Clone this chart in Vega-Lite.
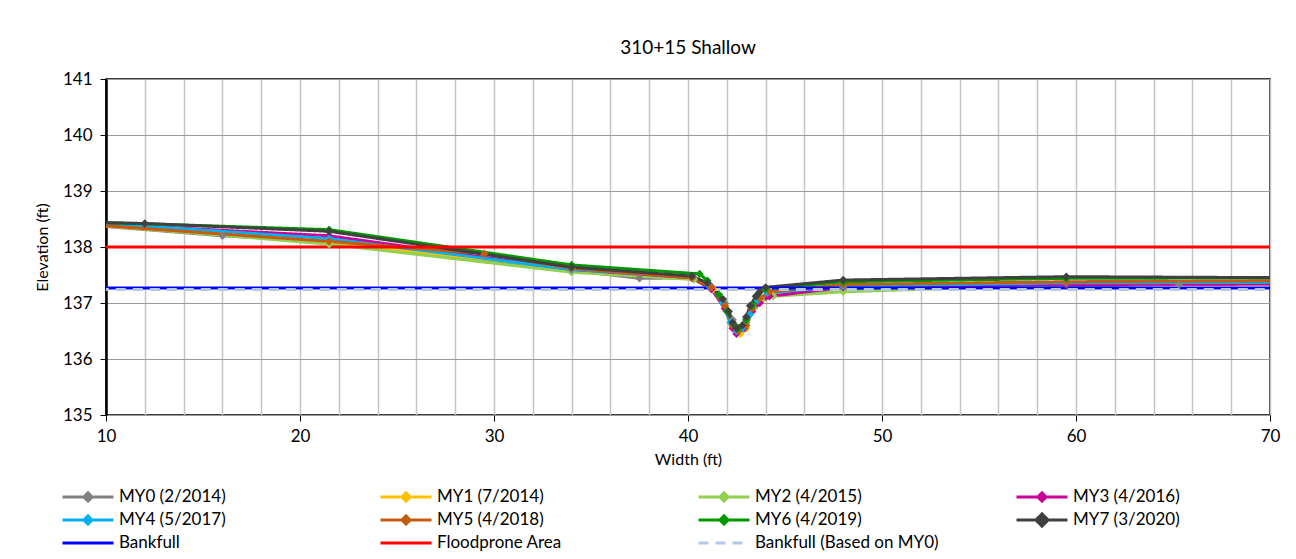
{
  "$schema": "https://vega.github.io/schema/vega-lite/v6.json",
  "width": 1164,
  "height": 336,
  "autosize": {"type": "none"},
  "padding": {"left": 106, "top": 79, "right": 26, "bottom": 144},
  "background": "white",
  "title": {"text": "310+15 Shallow", "font": "Lato", "fontSize": 19, "fontWeight": "normal", "color": "#000000", "offset": 12, "anchor": "middle"},
  "config": {
    "view": {"stroke": "#000000", "strokeWidth": 1.5},
    "axis": {"labelFont": "Lato", "titleFont": "Lato", "labelColor": "#000000", "titleColor": "#000000", "labelFontSize": 17, "titleFontSize": 16, "titleFontWeight": "normal", "domainColor": "#000000", "tickColor": "#000000"}
  },
  "data": {"values": [
    {"series": "MY0 (2/2014)", "x": 7, "y": 138.45},
    {"series": "MY0 (2/2014)", "x": 16, "y": 138.2},
    {"series": "MY0 (2/2014)", "x": 21.5, "y": 138.1},
    {"series": "MY0 (2/2014)", "x": 37.5, "y": 137.44},
    {"series": "MY0 (2/2014)", "x": 40.3, "y": 137.45},
    {"series": "MY0 (2/2014)", "x": 41.2, "y": 137.3},
    {"series": "MY0 (2/2014)", "x": 41.9, "y": 137.0},
    {"series": "MY0 (2/2014)", "x": 42.3, "y": 136.7},
    {"series": "MY0 (2/2014)", "x": 42.6, "y": 136.55},
    {"series": "MY0 (2/2014)", "x": 43.0, "y": 136.65},
    {"series": "MY0 (2/2014)", "x": 43.3, "y": 136.9},
    {"series": "MY0 (2/2014)", "x": 43.6, "y": 137.05},
    {"series": "MY0 (2/2014)", "x": 44.2, "y": 137.15},
    {"series": "MY0 (2/2014)", "x": 48, "y": 137.25},
    {"series": "MY0 (2/2014)", "x": 65.3, "y": 137.33},
    {"series": "MY0 (2/2014)", "x": 72, "y": 137.35},

    {"series": "MY1 (7/2014)", "x": 7, "y": 138.45},
    {"series": "MY1 (7/2014)", "x": 21.5, "y": 138.08},
    {"series": "MY1 (7/2014)", "x": 34, "y": 137.62},
    {"series": "MY1 (7/2014)", "x": 40.2, "y": 137.45},
    {"series": "MY1 (7/2014)", "x": 41.3, "y": 137.25},
    {"series": "MY1 (7/2014)", "x": 41.9, "y": 136.95},
    {"series": "MY1 (7/2014)", "x": 42.3, "y": 136.6},
    {"series": "MY1 (7/2014)", "x": 42.7, "y": 136.45},
    {"series": "MY1 (7/2014)", "x": 43.0, "y": 136.55},
    {"series": "MY1 (7/2014)", "x": 43.3, "y": 136.85},
    {"series": "MY1 (7/2014)", "x": 43.7, "y": 137.05},
    {"series": "MY1 (7/2014)", "x": 44.3, "y": 137.15},
    {"series": "MY1 (7/2014)", "x": 48, "y": 137.27},
    {"series": "MY1 (7/2014)", "x": 59.5, "y": 137.35},
    {"series": "MY1 (7/2014)", "x": 72, "y": 137.38},

    {"series": "MY2 (4/2015)", "x": 7, "y": 138.47},
    {"series": "MY2 (4/2015)", "x": 21.5, "y": 138.05},
    {"series": "MY2 (4/2015)", "x": 34, "y": 137.55},
    {"series": "MY2 (4/2015)", "x": 40.3, "y": 137.42},
    {"series": "MY2 (4/2015)", "x": 41.2, "y": 137.25},
    {"series": "MY2 (4/2015)", "x": 41.9, "y": 136.95},
    {"series": "MY2 (4/2015)", "x": 42.3, "y": 136.65},
    {"series": "MY2 (4/2015)", "x": 42.6, "y": 136.5},
    {"series": "MY2 (4/2015)", "x": 43.0, "y": 136.6},
    {"series": "MY2 (4/2015)", "x": 43.4, "y": 136.9},
    {"series": "MY2 (4/2015)", "x": 43.8, "y": 137.05},
    {"series": "MY2 (4/2015)", "x": 44.4, "y": 137.12},
    {"series": "MY2 (4/2015)", "x": 48, "y": 137.2},
    {"series": "MY2 (4/2015)", "x": 59.5, "y": 137.33},
    {"series": "MY2 (4/2015)", "x": 72, "y": 137.34},

    {"series": "MY3 (4/2016)", "x": 7, "y": 138.46},
    {"series": "MY3 (4/2016)", "x": 21.5, "y": 138.2},
    {"series": "MY3 (4/2016)", "x": 34, "y": 137.6},
    {"series": "MY3 (4/2016)", "x": 40.2, "y": 137.45},
    {"series": "MY3 (4/2016)", "x": 41.2, "y": 137.25},
    {"series": "MY3 (4/2016)", "x": 41.9, "y": 136.9},
    {"series": "MY3 (4/2016)", "x": 42.3, "y": 136.55},
    {"series": "MY3 (4/2016)", "x": 42.5, "y": 136.45},
    {"series": "MY3 (4/2016)", "x": 42.9, "y": 136.55},
    {"series": "MY3 (4/2016)", "x": 43.3, "y": 136.85},
    {"series": "MY3 (4/2016)", "x": 43.7, "y": 137.0},
    {"series": "MY3 (4/2016)", "x": 44.2, "y": 137.12},
    {"series": "MY3 (4/2016)", "x": 48, "y": 137.28},
    {"series": "MY3 (4/2016)", "x": 59.5, "y": 137.33},
    {"series": "MY3 (4/2016)", "x": 72, "y": 137.34},

    {"series": "MY4 (5/2017)", "x": 7, "y": 138.49},
    {"series": "MY4 (5/2017)", "x": 21.5, "y": 138.15},
    {"series": "MY4 (5/2017)", "x": 34, "y": 137.6},
    {"series": "MY4 (5/2017)", "x": 40.2, "y": 137.47},
    {"series": "MY4 (5/2017)", "x": 41.1, "y": 137.3},
    {"series": "MY4 (5/2017)", "x": 41.8, "y": 137.0},
    {"series": "MY4 (5/2017)", "x": 42.2, "y": 136.65},
    {"series": "MY4 (5/2017)", "x": 42.5, "y": 136.5},
    {"series": "MY4 (5/2017)", "x": 42.8, "y": 136.55},
    {"series": "MY4 (5/2017)", "x": 43.2, "y": 136.8},
    {"series": "MY4 (5/2017)", "x": 43.6, "y": 137.05},
    {"series": "MY4 (5/2017)", "x": 44.1, "y": 137.18},
    {"series": "MY4 (5/2017)", "x": 48, "y": 137.3},
    {"series": "MY4 (5/2017)", "x": 59.5, "y": 137.36},
    {"series": "MY4 (5/2017)", "x": 72, "y": 137.37},

    {"series": "MY5 (4/2018)", "x": 7, "y": 138.45},
    {"series": "MY5 (4/2018)", "x": 21.5, "y": 138.1},
    {"series": "MY5 (4/2018)", "x": 29.5, "y": 137.88},
    {"series": "MY5 (4/2018)", "x": 34, "y": 137.62},
    {"series": "MY5 (4/2018)", "x": 40.2, "y": 137.45},
    {"series": "MY5 (4/2018)", "x": 41.2, "y": 137.28},
    {"series": "MY5 (4/2018)", "x": 41.9, "y": 136.95},
    {"series": "MY5 (4/2018)", "x": 42.3, "y": 136.6},
    {"series": "MY5 (4/2018)", "x": 42.6, "y": 136.5},
    {"series": "MY5 (4/2018)", "x": 43.0, "y": 136.6},
    {"series": "MY5 (4/2018)", "x": 43.3, "y": 136.9},
    {"series": "MY5 (4/2018)", "x": 43.7, "y": 137.08},
    {"series": "MY5 (4/2018)", "x": 44.2, "y": 137.2},
    {"series": "MY5 (4/2018)", "x": 48, "y": 137.33},
    {"series": "MY5 (4/2018)", "x": 59.5, "y": 137.38},
    {"series": "MY5 (4/2018)", "x": 72, "y": 137.4},

    {"series": "MY6 (4/2019)", "x": 7, "y": 138.47},
    {"series": "MY6 (4/2019)", "x": 21.5, "y": 138.31},
    {"series": "MY6 (4/2019)", "x": 34, "y": 137.68},
    {"series": "MY6 (4/2019)", "x": 40.6, "y": 137.52},
    {"series": "MY6 (4/2019)", "x": 41.0, "y": 137.4},
    {"series": "MY6 (4/2019)", "x": 41.6, "y": 137.15},
    {"series": "MY6 (4/2019)", "x": 42.0, "y": 136.85},
    {"series": "MY6 (4/2019)", "x": 42.4, "y": 136.6},
    {"series": "MY6 (4/2019)", "x": 42.6, "y": 136.55},
    {"series": "MY6 (4/2019)", "x": 43.0, "y": 136.7},
    {"series": "MY6 (4/2019)", "x": 43.3, "y": 136.95},
    {"series": "MY6 (4/2019)", "x": 43.6, "y": 137.15},
    {"series": "MY6 (4/2019)", "x": 44.0, "y": 137.25},
    {"series": "MY6 (4/2019)", "x": 48, "y": 137.38},
    {"series": "MY6 (4/2019)", "x": 59.5, "y": 137.44},
    {"series": "MY6 (4/2019)", "x": 72, "y": 137.45},

    {"series": "MY7 (3/2020)", "x": 7, "y": 138.45},
    {"series": "MY7 (3/2020)", "x": 12, "y": 138.42},
    {"series": "MY7 (3/2020)", "x": 21.5, "y": 138.28},
    {"series": "MY7 (3/2020)", "x": 34, "y": 137.64},
    {"series": "MY7 (3/2020)", "x": 40.2, "y": 137.48},
    {"series": "MY7 (3/2020)", "x": 41.0, "y": 137.36},
    {"series": "MY7 (3/2020)", "x": 41.8, "y": 137.07},
    {"series": "MY7 (3/2020)", "x": 42.1, "y": 136.85},
    {"series": "MY7 (3/2020)", "x": 42.3, "y": 136.65},
    {"series": "MY7 (3/2020)", "x": 42.5, "y": 136.55},
    {"series": "MY7 (3/2020)", "x": 42.8, "y": 136.6},
    {"series": "MY7 (3/2020)", "x": 43.0, "y": 136.75},
    {"series": "MY7 (3/2020)", "x": 43.2, "y": 136.95},
    {"series": "MY7 (3/2020)", "x": 43.5, "y": 137.12},
    {"series": "MY7 (3/2020)", "x": 43.7, "y": 137.2},
    {"series": "MY7 (3/2020)", "x": 44.0, "y": 137.28},
    {"series": "MY7 (3/2020)", "x": 48, "y": 137.41},
    {"series": "MY7 (3/2020)", "x": 59.5, "y": 137.47},
    {"series": "MY7 (3/2020)", "x": 72, "y": 137.45},

    {"series": "Bankfull", "x": 7, "y": 137.27},
    {"series": "Bankfull", "x": 72, "y": 137.27},
    {"series": "Floodprone Area", "x": 7, "y": 138.0},
    {"series": "Floodprone Area", "x": 72, "y": 138.0},
    {"series": "Bankfull (Based on MY0)", "x": 7, "y": 137.24},
    {"series": "Bankfull (Based on MY0)", "x": 72, "y": 137.24}
  ]},
  "layer": [
    {
      "mark": {"type": "line", "clip": true, "strokeJoin": "round"},
      "encoding": {
        "x": {"field": "x", "type": "quantitative",
          "scale": {"domain": [10, 70], "nice": false, "zero": false},
          "axis": {"title": "Width (ft)", "values": [10,12,14,16,18,20,22,24,26,28,30,32,34,36,38,40,42,44,46,48,50,52,54,56,58,60,62,64,66,68,70],
            "tickCount": 100, "format": "d",
            "labelExpr": "datum.value % 10 === 0 ? datum.label : ''",
            "labelOverlap": false, "labelBound": false,
            "tickOpacity": {"condition": {"test": "datum.value % 10 === 0", "value": 1}, "value": 0},
            "tickSize": 6, "labelPadding": 7, "titlePadding": 7,
            "grid": true, "gridColor": "#C4C4C4", "gridWidth": 1.5, "domain": false, "labelFlush": false}},
        "y": {"field": "y", "type": "quantitative",
          "scale": {"domain": [135, 141], "nice": false, "zero": false},
          "axis": {"title": "Elevation (ft)", "values": [135,136,137,138,139,140,141], "tickCount": 100, "format": "d", "labelOverlap": false, "tickSize": 6, "labelPadding": 8, "titlePadding": 12,
            "grid": true, "gridColor": "#9A9A9A", "gridWidth": 1, "domainWidth": 2.5, "domainColor": "#000000"}},
        "color": {"field": "series", "type": "nominal",
          "scale": {"domain": ["MY0 (2/2014)","MY1 (7/2014)","MY2 (4/2015)","MY3 (4/2016)","MY4 (5/2017)","MY5 (4/2018)","MY6 (4/2019)","MY7 (3/2020)","Bankfull","Floodprone Area","Bankfull (Based on MY0)"],
            "range": ["#808080","#FFC000","#92D050","#CC0099","#00B0F0","#C55A11","#009A00","#404040","#0000FF","#FF0000","#B4C7E7"]},
          "legend": {"orient": "none", "legendX": -45, "legendY": 408, "columns": 4, "direction": "horizontal", "title": null,
            "symbolSize": 2601, "clipHeight": 20, "rowPadding": 3, "columnPadding": 0, "padding": 0,
            "labelFont": "Lato", "labelFontSize": 17, "labelColor": "#000000", "labelOffset": 4, "labelLimit": 300,
            "encode": {
              "symbols": {"update": {
                "shape": {"signal": "datum.value === 'MY7 (3/2020)' ? 'M-1,0H1M0,-0.24L0.24,0L0,0.24L-0.24,0Z' : (indexof(['Bankfull','Floodprone Area','Bankfull (Based on MY0)'], datum.value) >= 0 ? 'M-1,0H1' : 'M-1,0H1M0,-0.16L0.16,0L0,0.16L-0.16,0Z')"},
                "strokeDash": {"signal": "datum.value === 'Bankfull (Based on MY0)' ? [10,7] : [1,0]"},
                "fill": {"scale": "color", "field": "value"},
                "stroke": {"scale": "color", "field": "value"},
                "strokeWidth": {"signal": "indexof(['Bankfull','Floodprone Area'], datum.value) >= 0 ? 2 : 3"},
                "opacity": {"value": 1}, "fillOpacity": {"value": 1}, "strokeOpacity": {"value": 1}
              }},
              "entries": {"update": {"width": {"value": 318}}}
            }}},
        "strokeWidth": {"field": "series", "type": "nominal", "legend": null,
          "scale": {"domain": ["MY0 (2/2014)","MY1 (7/2014)","MY2 (4/2015)","MY3 (4/2016)","MY4 (5/2017)","MY5 (4/2018)","MY6 (4/2019)","MY7 (3/2020)","Bankfull","Floodprone Area","Bankfull (Based on MY0)"],
            "range": [3,3,3,3,3,3,3,4,2,2,3]}},
        "strokeDash": {"field": "series", "type": "nominal", "legend": null,
          "scale": {"domain": ["MY0 (2/2014)","MY1 (7/2014)","MY2 (4/2015)","MY3 (4/2016)","MY4 (5/2017)","MY5 (4/2018)","MY6 (4/2019)","MY7 (3/2020)","Bankfull","Floodprone Area","Bankfull (Based on MY0)"],
            "range": [[1,0],[1,0],[1,0],[1,0],[1,0],[1,0],[1,0],[1,0],[1,0],[1,0],[10,7]]}}
      }
    },
    {
      "transform": [{"filter": {"field": "series", "oneOf": ["MY0 (2/2014)","MY1 (7/2014)","MY2 (4/2015)","MY3 (4/2016)","MY4 (5/2017)","MY5 (4/2018)","MY6 (4/2019)","MY7 (3/2020)"]}}],
      "mark": {"type": "point", "shape": "diamond", "filled": true, "opacity": 1, "clip": true},
      "encoding": {
        "x": {"field": "x", "type": "quantitative"},
        "y": {"field": "y", "type": "quantitative"},
        "color": {"field": "series", "type": "nominal"},
        "size": {"field": "series", "type": "nominal", "legend": null,
          "scale": {"domain": ["MY0 (2/2014)","MY1 (7/2014)","MY2 (4/2015)","MY3 (4/2016)","MY4 (5/2017)","MY5 (4/2018)","MY6 (4/2019)","MY7 (3/2020)"],
            "range": [70,70,70,70,70,70,70,150]}}
      }
    }
  ]
}
